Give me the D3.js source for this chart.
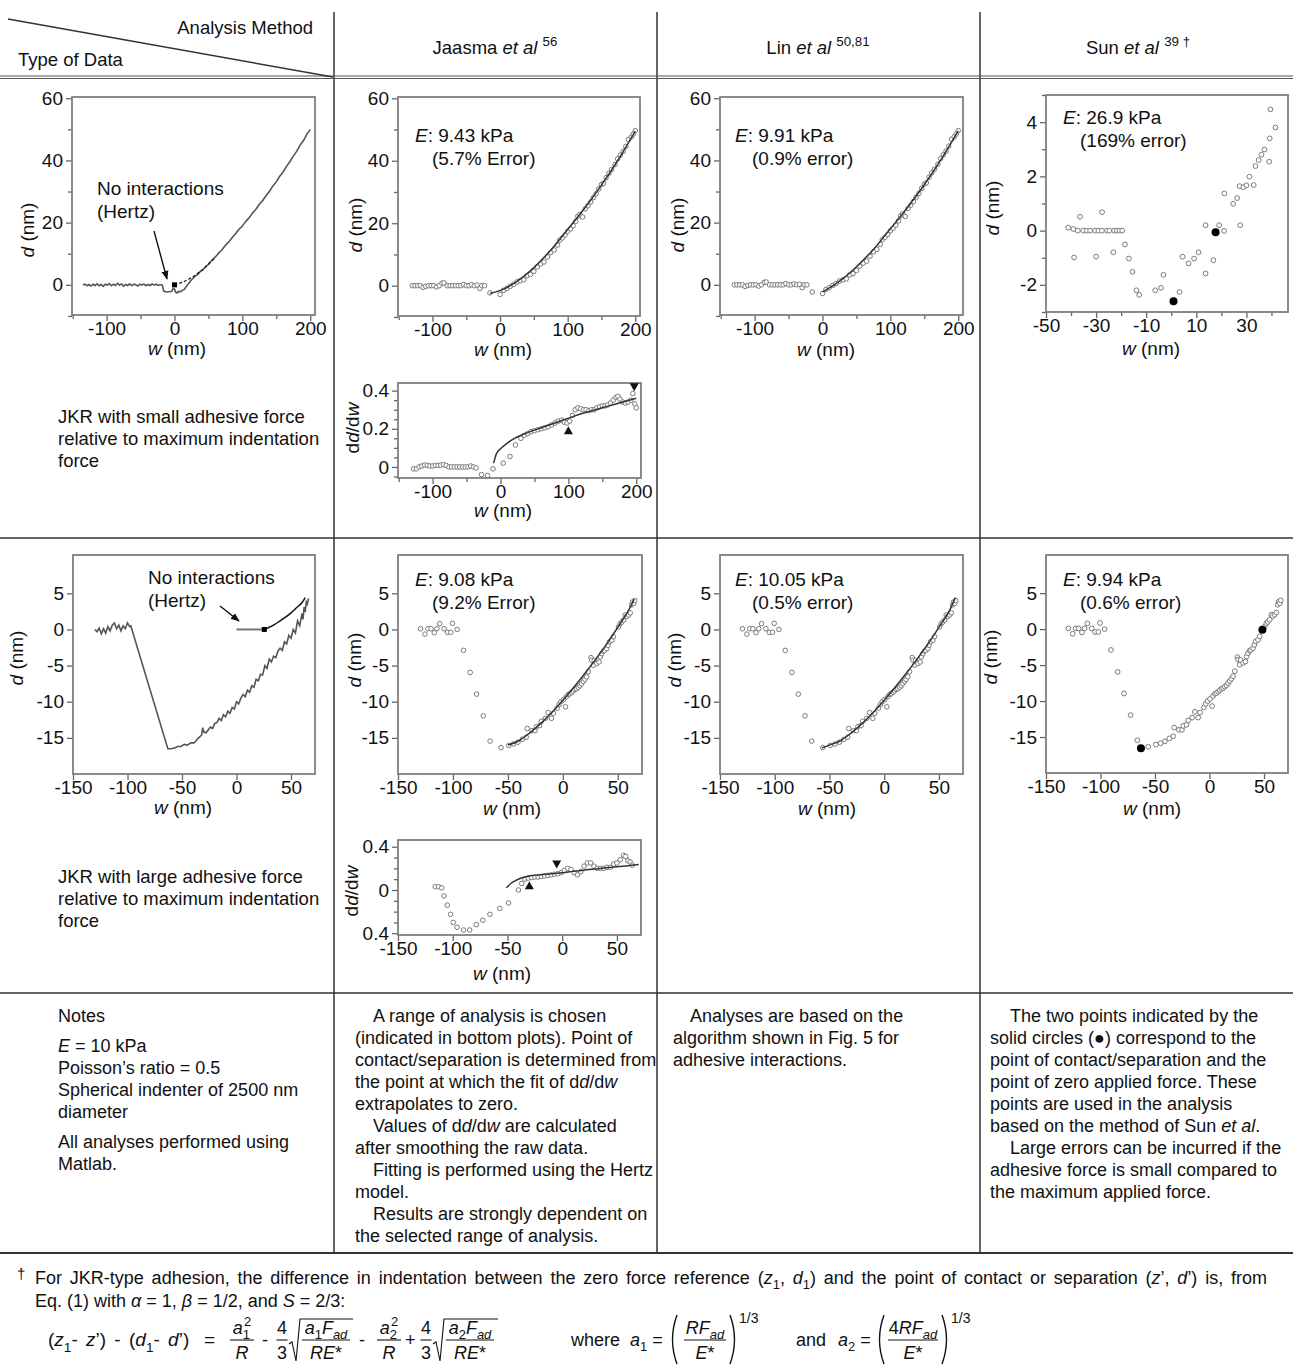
<!DOCTYPE html>
<html>
<head>
<meta charset="utf-8">
<script src="https://cdn.jsdelivr.net/npm/d3@7"></script>
<style>
  body { margin: 0; background: #fff; }
  svg text { font-family: "Liberation Sans", Arial, Helvetica, sans-serif; fill: #111; }
</style>
</head>
<body>
<svg id="fig" width="1293" height="1372"></svg>
<script>
// ---------------- data: small adhesive force (row 1) ----------------
// measured deflection trace d(w), nm
const rawSmallTrace = [
  [-135,0],[-132,0.2],[-129,-0.3],[-126,0.1],[-123,-0.4],[-120,0.2],[-117,-0.2],[-114,0.3],[-111,-0.3],
  [-108,0.1],[-105,-0.5],[-102,0.2],[-99,-0.1],[-96,0.4],[-93,-0.3],[-90,0.2],[-87,-0.2],[-84,0.5],
  [-81,-0.1],[-78,0.3],[-75,-0.4],[-72,0.1],[-69,-0.2],[-66,0.3],[-63,-0.3],[-60,0.2],[-57,0],[-54,-0.4],
  [-51,0.2],[-48,-0.1],[-45,0.3],[-42,-0.3],[-39,0.1],[-36,-0.2],[-33,0.3],[-30,-0.1],[-27,0.2],[-24,-0.2],
  [-21,0.1],[-18,-0.1],[-16,-2.0],[-12,-2.3],[-8,-2.2],[-4,-2.1],[-2,-1.2],[0,-1.4],[2,-2.4],[4,-2.6],
  [6,-2.1],[9,-2.2],[12,-1.7],[15,-1.4],[17,-0.6],[20,0.2],[23,1.1],[26,1.8],[30,2.7],[34,3.3],[38,4.3],
  [42,4.9],[46,5.9],[50,6.6],[55,7.9],[60,8.9],[65,10.2],[70,11.3],[75,12.7],[80,13.8],[85,15.2],[90,16.4],
  [95,17.9],[100,18.9],[105,20.4],[110,21.6],[115,23.1],[120,24.3],[125,25.9],[130,27.1],[135,28.7],
  [140,30.1],[145,31.8],[150,33.1],[155,34.9],[160,36.3],[165,38.1],[170,39.6],[175,41.4],[180,42.9],
  [185,44.9],[190,46.4],[195,48.4],[200,50.0]
];
// Hertz reference curve (no interactions)
const hertzSmallRef = [[0,0],[10,0.7],[20,1.7],[30,3.0],[40,4.6],[50,6.6],[60,8.8]];
const hertzSmallPoint = [0,0];

// sampled points used by the analyses
const smallPts = [
  [-130,0],[-126,0],[-122,0],[-118,0],[-114,-0.5],[-110,-0.2],[-106,0],[-102,0],[-98,0],[-94,-0.4],
  [-90,0],[-86,0.8],[-83,0.9],[-78,0],[-74,0],[-70,0],[-66,0],[-62,0],[-58,0],[-54,0.4],[-50,0],[-46,0],
  [-42,0.3],[-38,0],[-34,0.2],[-30,-0.9],[-27,0],[-23,0],[-15,-2.3],[0,-2.8],[5,-1.5],[10,-0.9],[15,-0.2],
  [20,0.4],[25,1.2],[30,1.6],[35,1.9],[40,3.2],[45,3.6],[50,4.6],[55,6.0],[60,7.0],[65,7.6],[70,9.2],
  [75,10.6],[80,11.4],[85,13.0],[88,14.5],[92,15.3],[96,16.2],[100,17.4],[104,18.2],[108,19.2],[112,20.6],
  [115,22.2],[118,22.8],[122,22.0],[126,24.6],[130,25.6],[134,26.8],[138,28.2],[142,29.4],[146,31.0],
  [150,32.4],[153,32.8],[157,34.6],[161,36.0],[165,37.2],[170,38.8],[174,40.6],[178,41.8],[182,43.0],
  [186,44.6],[190,46.8],[194,47.6],[197,48.5],[200,49.6]
];
const fitSmallJaasma = [[-15,-2.5],[-5,-1.9],[5,-1.1],[15,0],[25,1.4],[35,3.0],[50,5.8],[75,11.4],
  [100,18.0],[125,24.8],[150,32.2],[175,40.4],[200,49.5]];
const fitSmallLin = [[0,-2.3],[10,-1.0],[20,0.4],[30,2.0],[40,3.8],[50,5.8],[75,11.4],[100,18.0],
  [125,24.8],[150,32.2],[175,40.4],[200,49.5]];

// slope dd/dw after smoothing
const slopeSmallPts = [
  [-128,-0.01],[-124,-0.01],[-120,0.0],[-116,0.005],[-112,0.01],[-108,0.008],[-104,0.005],[-100,0.005],
  [-96,0.008],[-92,0.008],[-88,0.01],[-84,0.012],[-80,0.008],[-76,0.0],[-72,0.0],[-68,0.0],[-64,0.0],
  [-60,0.0],[-56,0.0],[-52,0.0],[-48,0.0],[-44,0.005],[-40,0.0],[-36,-0.005],[-28,-0.04],[-19,-0.045],
  [-11,-0.01],[4,0.02],[14,0.055],[22,0.115],[30,0.15],[35,0.165],[40,0.175],[45,0.185],[50,0.19],
  [55,0.195],[60,0.2],[65,0.205],[70,0.21],[75,0.22],[80,0.23],[85,0.24],[90,0.245],[94,0.235],[98,0.23],
  [102,0.24],[106,0.27],[110,0.3],[114,0.31],[118,0.305],[122,0.3],[126,0.3],[130,0.295],[134,0.3],
  [138,0.3],[142,0.31],[146,0.315],[150,0.32],[154,0.32],[158,0.325],[162,0.335],[166,0.35],[170,0.365],
  [173,0.37],[176,0.355],[180,0.34],[184,0.335],[188,0.34],[192,0.35],[195,0.385],[198,0.33],[200,0.31]
];
const slopeSmallFit = [[-10,0.02],[-7,0.06],[-3,0.085],[0,0.095],[10,0.125],[20,0.148],[40,0.18],
  [60,0.205],[80,0.23],[100,0.255],[120,0.28],[140,0.3],[160,0.32],[180,0.34],[200,0.36]];
const slopeSmallUp = [100,0.19];
const slopeSmallDown = [197,0.42];

// Sun et al. analysis, zoomed range
const sunSmallPts = [
  [-41.1,0.11],[-39.1,0.06],[-38.8,-0.99],[-37.3,0],[-36.4,0.51],[-35.1,0],[-33.7,0],[-32.4,0],
  [-30.4,0],[-30,-0.96],[-29.1,0],[-27.7,0],[-27.6,0.68],[-25.7,0],[-24.7,0],[-23.1,-0.8],[-22.8,0],
  [-21.7,0],[-20.7,0],[-19.6,0],[-18.5,-0.51],[-16.9,-1.03],[-15.5,-1.52],[-13.9,-2.2],[-12.8,-2.37],
  [-6.4,-2.2],[-4.1,-2.11],[-3.1,-1.63],[3.3,-2.26],[4.5,-0.96],[6.9,-1.21],[9.1,-1.03],[10.9,-0.8],
  [13.7,-1.58],[13.7,0.2],[16.8,-1.09],[19.1,0.2],[21.1,-0.01],[21.2,1.37],[24.7,0.99],[26.3,1.2],
  [27.3,1.64],[27.5,0.2],[28.8,1.6],[30,1.67],[31.2,1.99],[32.9,1.68],[33.6,2.38],[34.9,2.6],[36,2.8],
  [37.2,2.99],[39.1,2.54],[39.3,3.4],[39.6,4.47],[41.6,3.8]
];
const sunSmallKey = [[0.9,-2.6],[17.7,-0.06]];

// ---------------- data: large adhesive force (row 2) ----------------
const rawLargeTrace = [
  [-130,0],[-128,-0.3],[-126,0.2],[-124,-0.6],[-122,0.1],[-120,-0.5],[-118,0.4],[-116,-0.2],[-114,0.6],
  [-112,0.9],[-110,0.1],[-108,0.6],[-106,-0.2],[-104,0.5],[-102,0.1],[-100,0.9],[-98,0.4],[-97,0.5],
  [-63,-16.5],[-60,-16.5],[-57,-16.4],[-54,-16.2],[-51,-16.2],[-48,-15.9],[-45,-16],[-42,-15.7],
  [-39,-15.7],[-36,-15.2],[-34,-14.9],[-32,-14.6],[-31,-13.6],[-30,-14.2],[-28,-14.3],[-26,-13.9],
  [-24,-13.5],[-22,-13.7],[-20,-13.0],[-18,-12.9],[-16,-12.3],[-14,-12.6],[-12,-11.8],[-10,-12.1],
  [-8,-11.3],[-6,-11.6],[-4,-10.8],[-2,-11.0],[0,-10.0],[2,-10.3],[4,-9.5],[6,-9.0],[8,-9.3],[10,-8.4],
  [12,-8.7],[14,-7.8],[16,-8.0],[18,-6.9],[20,-7.1],[22,-6.2],[24,-6.3],[26,-5.0],[28,-5.4],[30,-4.1],
  [32,-4.5],[34,-3.7],[36,-3.9],[38,-3.0],[40,-2.6],[42,-2.9],[44,-1.7],[46,-2.0],[48,-0.8],[50,-1.2],
  [52,0.0],[54,-0.5],[56,1.2],[58,0.5],[60,2.2],[61,1.4],[62,3.1],[63,2.4],[64,3.8],[65,3.5],[66,4.3]
];
const hertzLargeFlat = [[0,0],[25.5,0]];
const hertzLargeCurve = [[25.5,0],[30,0.3],[35,0.7],[40,1.2],[45,1.7],[50,2.3],[55,3.0],[60,3.7],[63,4.4]];
const hertzLargePoint = [25.5,0];

const largePts = [
  [-129.5,0.1],[-125.5,-0.65],[-122.8,0.1],[-120,0.1],[-117,-0.45],[-114.6,0.1],[-112.1,0.8],[-108.1,0.1],
  [-105,-0.4],[-102,-0.4],[-100.5,0.85],[-96.2,0],[-90.4,-2.9],[-84.3,-5.95],[-78.5,-8.95],[-72.4,-11.95],
  [-66.2,-15.45],[-56.2,-16.35],[-49.2,-16.05],[-44.9,-15.85],[-40.9,-15.6],[-36.9,-15.2],[-33.3,-14.9],
  [-32.4,-13.7],[-28.1,-14],[-25.3,-14],[-24.1,-13.45],[-21.1,-13.3],[-19.6,-12.7],[-15.9,-12.3],
  [-13.4,-11.5],[-10.4,-12.3],[-8.6,-11.6],[-5.2,-10.9],[-3.5,-10.4],[-1.8,-10],[0.5,-9.7],[2.4,-10.7],
  [3.3,-9.3],[5,-9.0],[6.4,-8.9],[8,-8.7],[9.4,-8.5],[11,-8.3],[12.5,-8.2],[14,-8.0],[15.5,-7.8],
  [17,-7.5],[18.6,-7.2],[20,-6.9],[21.6,-6.55],[23.2,-5.85],[25.6,-3.9],[26.2,-4.25],[27.7,-4.95],
  [28.5,-4.3],[30.8,-4.7],[32.9,-4.5],[34,-3.8],[35.3,-3.35],[36.9,-3],[38,-2.9],[39.9,-2.65],[41,-2.2],
  [42.4,-1.7],[44.5,-1.5],[46,-1.0],[50.6,0.35],[52.1,0.8],[53.5,1.0],[55.2,1.3],[56.7,2],[58,1.8],
  [59.8,2],[61.3,2.3],[62.5,3.4],[63.4,3.8],[64.5,3.6],[65.3,4]
];
const fitLargeJaasma = [[-50,-16.0],[-40,-15.4],[-30,-14.3],[-20,-13.0],[-10,-11.5],[0,-9.8],[10,-8.0],
  [20,-6.1],[30,-4.1],[40,-2.0],[50,0.3],[60,2.7],[65,4.2]];
const fitLargeLin = [[-57,-16.4],[-50,-16.0],[-40,-15.4],[-30,-14.3],[-20,-13.0],[-10,-11.5],[0,-9.8],
  [10,-8.0],[20,-6.1],[30,-4.1],[40,-2.0],[50,0.3],[60,2.7],[65,4.4]];
const sunLargeKey = [[-62.9,-16.55],[48.5,-0.1]];

const slopeLargePts = [
  [-116,0.03],[-113,0.03],[-110,0.02],[-108,-0.055],[-105,-0.14],[-102,-0.225],[-99.5,-0.3],[-96,-0.345],
  [-90,-0.37],[-84.5,-0.37],[-78.5,-0.32],[-72.5,-0.28],[-66,-0.225],[-57,-0.17],[-49,-0.12],
  [-40,0.0],[-37,0.06],[-34,0.1],[-31,0.11],[-28,0.115],[-25,0.12],[-22,0.12],[-19,0.125],[-16,0.13],
  [-13,0.135],[-10,0.14],[-7,0.145],[-4,0.15],[-1,0.16],[2,0.18],[5,0.2],[8,0.19],[11,0.16],[14,0.14],
  [17,0.17],[20,0.22],[23,0.25],[26,0.25],[29,0.22],[32,0.2],[35,0.2],[38,0.2],[41,0.21],[44,0.21],
  [47,0.24],[50,0.25],[53,0.28],[56,0.32],[58,0.31],[60,0.27],[62,0.26],[64,0.23]
];
const slopeLargeFit = [[-51,0.02],[-47,0.06],[-42,0.09],[-36,0.115],[-30,0.13],[-20,0.14],[-10,0.15],
  [0,0.16],[10,0.172],[20,0.183],[30,0.195],[40,0.205],[50,0.215],[60,0.225],[70,0.235]];
const slopeLargeUp = [-30,0.04];
const slopeLargeDown = [-5,0.24];

// ---------------- tick values ----------------
const ticksD1 = [0,20,40,60], minorD1 = [-10,10,30,50];
const ticksW1 = [-100,0,100,200], minorW1 = [-150,-50,50,150];
const ticksD2 = [-15,-10,-5,0,5];
const ticksW2 = [-150,-100,-50,0,50];
const ticksSunW = [-50,-30,-10,10,30], minorSunW = [-40,-20,0,20,40];
const ticksSunD = [-2,0,2,4], minorSunD = [-3,-1,1,3,5];
const ticksSlope1 = [0,0.2,0.4], labelsSlope1 = ["0","0.2","0.4"];
const minorSlope1 = [-0.05,0.05,0.1,0.15,0.25,0.3,0.35];
const ticksSlope2 = [-0.4,0,0.4], labelsSlope2 = ["0.4","0","0.4"];
const minorSlope2 = [-0.3,-0.2,-0.1,0.1,0.2,0.3];

// fitted moduli shown inside the panels
const moduli = ["9.43 kPa","9.91 kPa","26.9 kPa","9.08 kPa","10.05 kPa","9.94 kPa"];
const errors = ["(5.7% Error)","(0.9% error)","(169% error)","(9.2% Error)","(0.5% error)","(0.6% error)"];

// ---------------- drawing ----------------
const svg = d3.select("#fig");
const FONT = '"Liberation Sans", Arial, Helvetica, sans-serif';

// text with italic / sub / sup runs
function rich(g, x, y, parts, opts = {}) {
  const size = opts.size || 18.5;
  const t = g.append("text").attr("x", x).attr("y", y).attr("font-size", size)
    .attr("text-anchor", opts.anchor || "start");
  if (opts.wordSpacing) t.attr("word-spacing", opts.wordSpacing);
  let cur = 0;
  parts.forEach(p => {
    const [str, style = "", dx = 0] = typeof p === "string" ? [p] : p;
    const shift = style.includes("sub") ? size * 0.3 : style.includes("sup") ? -size * 0.42 : 0;
    const ts = t.append("tspan").text(str).attr("dy", shift - cur);
    if (dx) ts.attr("dx", dx);
    cur = shift;
    if (style.includes("i")) ts.attr("font-style", "italic");
    if (shift) ts.attr("font-size", size * 0.72);
  });
  return t;
}

svg.append("defs").append("marker").attr("id", "arrow").attr("viewBox", "0 0 10 10")
  .attr("refX", 9).attr("refY", 5).attr("markerWidth", 9).attr("markerHeight", 9)
  .attr("orient", "auto").attr("markerUnits", "userSpaceOnUse")
  .append("path").attr("d", "M0,1 L10,5 L0,9 Z").attr("fill", "#111");

function panel(o) {
  const [L, R, T, B] = o.box;
  const g = svg.append("g");
  const x = d3.scaleLinear().domain(o.xDomain).range([L, R]);
  const y = d3.scaleLinear().domain(o.yDomain).range([B, T]);
  const lab = (ticks, labels) => d => labels ? labels[ticks.indexOf(d)] : String(d);
  if (o.xMinor) g.append("g").attr("class", "ax").attr("transform", `translate(0,${B})`)
    .call(d3.axisBottom(x).tickValues(o.xMinor).tickSize(4).tickFormat(""));
  g.append("g").attr("class", "ax").attr("transform", `translate(0,${B})`)
    .call(d3.axisBottom(x).tickValues(o.xTicks).tickSize(6).tickPadding(1).tickFormat(lab(o.xTicks, o.xLabels)));
  if (o.yMinor) g.append("g").attr("class", "ax").attr("transform", `translate(${L},0)`)
    .call(d3.axisLeft(y).tickValues(o.yMinor).tickSize(4).tickFormat(""));
  g.append("g").attr("class", "ax").attr("transform", `translate(${L},0)`)
    .call(d3.axisLeft(y).tickValues(o.yTicks).tickSize(6).tickPadding(3).tickFormat(lab(o.yTicks, o.yLabels)));
  g.selectAll(".ax path.domain").remove();
  g.selectAll(".ax line").attr("stroke", "#666").attr("stroke-width", 1.3);
  g.selectAll(".ax text").attr("font-size", 19).attr("fill", "#111").attr("font-family", FONT);
  g.append("rect").attr("x", L).attr("y", T).attr("width", R - L).attr("height", B - T)
    .attr("fill", "none").attr("stroke", "#7f7f7f").attr("stroke-width", 1.8);
  // axis titles
  rich(g, o.xt[0], o.xt[1], [["w", "i"], " (nm)"], { anchor: "middle", size: 19 });
  const yg = g.append("g").attr("transform", `translate(${o.yt[0]},${o.yt[1]}) rotate(-90)`);
  rich(yg, 0, 0, o.slope ? ["d", ["d", "i"], "/d", ["w", "i"]] : [["d", "i"], " (nm)"], { anchor: "middle", size: 19 });
  const line = d3.line().x(d => x(d[0])).y(d => y(d[1]));
  return { g, x, y, line };
}

function dots(p, data, r = 2.3) {
  p.g.append("g").selectAll("circle").data(data).join("circle")
    .attr("cx", d => p.x(d[0])).attr("cy", d => p.y(d[1])).attr("r", r)
    .attr("fill", "#fff").attr("stroke", "#7a7a7a").attr("stroke-width", 1);
}
function keyDots(p, data, r = 4) {
  p.g.append("g").selectAll("circle").data(data).join("circle")
    .attr("cx", d => p.x(d[0])).attr("cy", d => p.y(d[1])).attr("r", r).attr("fill", "#000");
}
function fit(p, data) {
  p.g.append("path").attr("d", p.line.curve(d3.curveMonotoneX)(data))
    .attr("fill", "none").attr("stroke", "#333").attr("stroke-width", 1.5);
}
function tri(p, pt, up) {
  const cx = p.x(pt[0]), cy = p.y(pt[1]), s = 4.5;
  const d = up ? `M${cx},${cy - s} L${cx + s},${cy + s * 0.8} L${cx - s},${cy + s * 0.8} Z`
               : `M${cx},${cy + s} L${cx + s},${cy - s * 0.8} L${cx - s},${cy - s * 0.8} Z`;
  p.g.append("path").attr("d", d).attr("fill", "#111");
}
function modulus(p, x, y, i) {
  rich(p.g, x, y, [["E", "i"], ": " + moduli[i]], { size: 19 });
  rich(p.g, x + 17, y + 23, [errors[i]], { size: 19 });
}

// ----- row 1 -----
const row1 = { xDomain: [-151, 207], yDomain: [-9.7, 60.4], xTicks: ticksW1, xMinor: minorW1, yTicks: ticksD1, yMinor: minorD1 };

const pA = panel({ ...row1, box: [72, 315, 97, 315], xt: [177, 355], yt: [34, 230] });
pA.g.append("path").attr("d", pA.line.curve(d3.curveLinear)(rawSmallTrace))
  .attr("fill", "none").attr("stroke", "#555").attr("stroke-width", 1.6);
pA.g.append("path").attr("d", pA.line.curve(d3.curveMonotoneX)(hertzSmallRef))
  .attr("fill", "none").attr("stroke", "#222").attr("stroke-width", 1.3).attr("stroke-dasharray", "3,2");
pA.g.append("rect").attr("x", pA.x(hertzSmallPoint[0]) - 2.5).attr("y", pA.y(hertzSmallPoint[1]) - 2.5)
  .attr("width", 5).attr("height", 5).attr("fill", "#000");
rich(pA.g, 97, 195, ["No interactions"], { size: 19 });
rich(pA.g, 97, 218, ["(Hertz)"], { size: 19 });
pA.g.append("line").attr("x1", 154).attr("y1", 231).attr("x2", 167).attr("y2", 279)
  .attr("stroke", "#111").attr("stroke-width", 1.4).attr("marker-end", "url(#arrow)");

const pB = panel({ ...row1, box: [398, 640, 97, 316], xt: [503, 356], yt: [362, 225] });
dots(pB, smallPts);
fit(pB, fitSmallJaasma);
modulus(pB, 415, 142, 0);

const pC = panel({ ...row1, box: [720, 963, 97, 315], xt: [826, 356], yt: [684, 225] });
dots(pC, smallPts);
fit(pC, fitSmallLin);
modulus(pC, 735, 142, 1);

const pD = panel({ xDomain: [-50, 46.6], yDomain: [-3, 5], xTicks: ticksSunW, xMinor: minorSunW,
  yTicks: ticksSunD, yMinor: minorSunD, box: [1046, 1288, 95, 312], xt: [1151, 355], yt: [999, 208] });
dots(pD, sunSmallPts, 2.4);
keyDots(pD, sunSmallKey);
modulus(pD, 1063, 124, 2);

const pE = panel({ xDomain: [-151, 207], yDomain: [-0.058, 0.44], xTicks: ticksW1, xMinor: minorW1,
  yTicks: ticksSlope1, yLabels: labelsSlope1, yMinor: minorSlope1, slope: true,
  box: [398, 641, 383, 478], xt: [503, 517], yt: [359, 428] });
dots(pE, slopeSmallPts);
fit(pE, slopeSmallFit);
tri(pE, slopeSmallUp, true);
tri(pE, slopeSmallDown, false);

// ----- row 2 -----
const row2 = { xDomain: [-150, 72], yDomain: [-20, 10.3], xTicks: ticksW2, yTicks: ticksD2 };

const pF = panel({ ...row2, box: [73, 315, 555, 774], xt: [183, 814], yt: [23, 658] });
pF.g.append("path").attr("d", pF.line.curve(d3.curveLinear)(rawLargeTrace))
  .attr("fill", "none").attr("stroke", "#555").attr("stroke-width", 1.6);
pF.g.append("path").attr("d", pF.line.curve(d3.curveLinear)(hertzLargeFlat))
  .attr("fill", "none").attr("stroke", "#777").attr("stroke-width", 2);
pF.g.append("path").attr("d", pF.line.curve(d3.curveMonotoneX)(hertzLargeCurve))
  .attr("fill", "none").attr("stroke", "#111").attr("stroke-width", 1.5);
pF.g.append("rect").attr("x", pF.x(hertzLargePoint[0]) - 2.5).attr("y", pF.y(hertzLargePoint[1]) - 2.5)
  .attr("width", 5).attr("height", 5).attr("fill", "#000");
rich(pF.g, 148, 584, ["No interactions"], { size: 19 });
rich(pF.g, 148, 607, ["(Hertz)"], { size: 19 });
pF.g.append("line").attr("x1", 220).attr("y1", 606).attr("x2", 239).attr("y2", 621)
  .attr("stroke", "#111").attr("stroke-width", 1.4).attr("marker-end", "url(#arrow)");

const pG = panel({ ...row2, box: [398, 642, 555, 774], xt: [512, 815], yt: [361, 660] });
dots(pG, largePts);
fit(pG, fitLargeJaasma);
modulus(pG, 415, 586, 3);

const pH = panel({ ...row2, box: [720, 963, 555, 774], xt: [827, 815], yt: [681, 660] });
dots(pH, largePts);
fit(pH, fitLargeLin);
modulus(pH, 735, 586, 4);

const pI = panel({ ...row2, box: [1046, 1288, 555, 773], xt: [1152, 815], yt: [997, 657] });
dots(pI, largePts, 2.4);
keyDots(pI, sunLargeKey);
modulus(pI, 1063, 586, 5);

const pJ = panel({ xDomain: [-150, 72], yDomain: [-0.416, 0.462], xTicks: ticksW2,
  yTicks: ticksSlope2, yLabels: labelsSlope2, yMinor: minorSlope2, slope: true,
  box: [398, 641, 840, 935], xt: [502, 980], yt: [358, 891] });
dots(pJ, slopeLargePts);
fit(pJ, slopeLargeFit);
tri(pJ, slopeLargeUp, true);
tri(pJ, slopeLargeDown, false);

// ---------------- table grid ----------------
const grid = svg.append("g").attr("stroke", "#333").attr("fill", "none");
[334, 657, 980].forEach(xv => grid.append("line").attr("x1", xv).attr("x2", xv).attr("y1", 12).attr("y2", 1253).attr("stroke-width", 1.5));
grid.append("line").attr("x1", 0).attr("x2", 1293).attr("y1", 76).attr("y2", 76).attr("stroke-width", 1.2).attr("stroke", "#555");
grid.append("line").attr("x1", 0).attr("x2", 1293).attr("y1", 78.5).attr("y2", 78.5).attr("stroke-width", 1.2).attr("stroke", "#555");
[538, 993].forEach(yv => grid.append("line").attr("x1", 0).attr("x2", 1293).attr("y1", yv).attr("y2", yv).attr("stroke-width", 1.6));
grid.append("line").attr("x1", 0).attr("x2", 1293).attr("y1", 1253).attr("y2", 1253).attr("stroke-width", 1.8);
grid.append("line").attr("x1", 8).attr("y1", 19).attr("x2", 333).attr("y2", 77).attr("stroke-width", 1.5);

// headers
rich(svg, 313, 34, ["Analysis Method"], { anchor: "end" });
rich(svg, 18, 66, ["Type of Data"]);
rich(svg, 495, 54, ["Jaasma ", ["et al", "i"], " ", ["56", "sup"]], { anchor: "middle" });
rich(svg, 818, 54, ["Lin ", ["et al", "i"], " ", ["50,81", "sup"]], { anchor: "middle" });
rich(svg, 1138, 54, ["Sun ", ["et al", "i"], " ", ["39 †", "sup"]], { anchor: "middle" });

// row labels
["JKR with small adhesive force", "relative to maximum indentation", "force"]
  .forEach((s, i) => rich(svg, 58, 423 + i * 22, [s]));
["JKR with large adhesive force", "relative to maximum indentation", "force"]
  .forEach((s, i) => rich(svg, 58, 883 + i * 22, [s]));

// notes
const NS = 18;
const notes1 = [[58, 1022, ["Notes"]], [58, 1052, [["E", "i"], " = 10 kPa"]], [58, 1074, ["Poisson’s ratio = 0.5"]],
  [58, 1096, ["Spherical indenter of 2500 nm"]], [58, 1118, ["diameter"]],
  [58, 1148, ["All analyses performed using"]], [58, 1170, ["Matlab."]]];
notes1.forEach(n => rich(svg, n[0], n[1], n[2], { size: NS }));

const notes2 = [[373, ["A range of analysis is chosen"]], [355, ["(indicated in bottom plots).  Point of"]],
  [355, ["contact/separation is determined from"]], [355, ["the point at which the fit of d", ["d", "i"], "/d", ["w", "i"]]],
  [355, ["extrapolates to zero."]], [373, ["Values of d", ["d", "i"], "/d", ["w", "i"], " are calculated"]],
  [355, ["after smoothing the raw data."]], [373, ["Fitting is performed using the Hertz"]],
  [355, ["model."]], [373, ["Results are strongly dependent on"]], [355, ["the selected range of analysis."]]];
notes2.forEach((n, i) => rich(svg, n[0], 1022 + i * 22, n[1], { size: NS }));

const notes3 = [[690, ["Analyses are based on the"]], [673, ["algorithm shown in Fig. 5 for"]], [673, ["adhesive interactions."]]];
notes3.forEach((n, i) => rich(svg, n[0], 1022 + i * 22, n[1], { size: NS }));

const notes4 = [[1010, ["The two points indicated by the"]], [990, ["solid circles (●) correspond to the"]],
  [990, ["point of contact/separation and the"]], [990, ["point of zero applied force.  These"]],
  [990, ["points are used in the analysis"]], [990, ["based on the method of Sun ", ["et al", "i"], "."]],
  [1010, ["Large errors can be incurred if the"]], [990, ["adhesive force is small compared to"]],
  [990, ["the maximum applied force."]]];
notes4.forEach((n, i) => rich(svg, n[0], 1022 + i * 22, n[1], { size: NS }));

// footnote (first line set justified)
rich(svg, 17, 1279, ["†"], { size: 15 });
rich(svg, 35, 1284, ["For JKR-type adhesion, the difference in indentation between the zero force reference (",
  ["z", "i"], ["1", "sub"], ", ", ["d", "i"], ["1", "sub"], ") and the point of contact or separation (",
  ["z", "i"], "’, ", ["d", "i"], "’) is, from"], { size: 18, wordSpacing: 2.8 });
rich(svg, 35, 1307, ["Eq. (1) with ", ["α", "i"], " = 1, ", ["β", "i"], " = 1/2, and ", ["S", "i"], " = 2/3:"], { size: 18 });

// formula
const fy = 1346, FS = 18;
const fg = svg.append("g");
function frac(cx, num, den, w) {
  rich(fg, cx, fy - 12, num, { anchor: "middle", size: FS });
  fg.append("line").attr("x1", cx - w / 2).attr("x2", cx + w / 2).attr("y1", fy - 6).attr("y2", fy - 6)
    .attr("stroke", "#111").attr("stroke-width", 1.1);
  rich(fg, cx, fy + 13, den, { anchor: "middle", size: FS });
}
function radical(x0, x1) {
  fg.append("path").attr("d", `M${x0},${fy - 2} L${x0 + 3},${fy - 4} L${x0 + 7},${fy + 15} L${x0 + 11},${fy - 27} L${x1},${fy - 27}`)
    .attr("fill", "none").attr("stroke", "#111").attr("stroke-width", 1.1);
}
function paren(xp, left) {
  const top = fy - 31, bot = fy + 18, mid = (top + bot) / 2;
  const d = left ? `M${xp + 5},${top} Q${xp - 4},${mid} ${xp + 5},${bot}` : `M${xp - 5},${top} Q${xp + 4},${mid} ${xp - 5},${bot}`;
  fg.append("path").attr("d", d).attr("fill", "none").attr("stroke", "#111").attr("stroke-width", 1.4);
}
rich(fg, 48, fy, ["(", ["z", "i"], ["1", "sub"], "- ", ["z", "i"], "’)  -  (", ["d", "i"], ["1", "sub"], "- ", ["d", "i"], "’)"], { size: 19, wordSpacing: 3 });
rich(fg, 204, fy, ["="], { size: 19 });
frac(242, [["a", "i"], ["1", "sub"], ["2", "sup", -6]], [["R", "i"]], 24);
rich(fg, 262, fy, ["-"], { size: FS });
frac(282, ["4"], ["3"], 11);
radical(289, 353);
frac(326, [["a", "i"], ["1", "sub"], ["F", "i"], ["ad", "isub"]], [["RE", "i"], "*"], 48);
rich(fg, 359, fy, ["-"], { size: FS });
frac(389, [["a", "i"], ["2", "sub"], ["2", "sup", -6]], [["R", "i"]], 24);
rich(fg, 405, fy, ["+"], { size: FS });
frac(426, ["4"], ["3"], 11);
radical(433, 498);
frac(470, [["a", "i"], ["2", "sub"], ["F", "i"], ["ad", "isub"]], [["RE", "i"], "*"], 48);
rich(fg, 571, fy, ["where"], { size: FS });
rich(fg, 630, fy, [["a", "i"], ["1", "sub"], "  ="], { size: FS });
paren(672, true);
frac(705, [["RF", "i"], ["ad", "isub"]], [["E", "i"], "*"], 42);
paren(735, false);
rich(fg, 739, fy - 23, ["1/3"], { size: 14 });
rich(fg, 796, fy, ["and"], { size: FS });
rich(fg, 838, fy, [["a", "i"], ["2", "sub"], "  ="], { size: FS });
paren(879, true);
frac(913, ["4", ["RF", "i"], ["ad", "isub"]], [["E", "i"], "*"], 50);
paren(947, false);
rich(fg, 951, fy - 23, ["1/3"], { size: 14 });
</script>
</body>
</html>
